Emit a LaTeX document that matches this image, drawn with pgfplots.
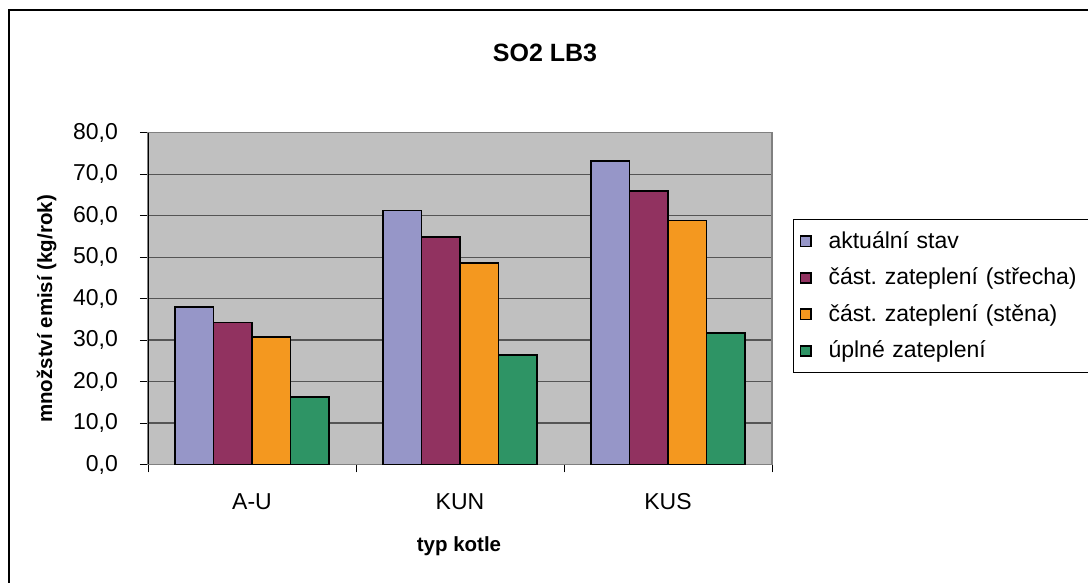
\documentclass[border=0pt]{standalone}
\usepackage{fontspec}
\setmainfont{Liberation Sans}
\usepackage{pgfplots}
\pgfplotsset{compat=1.18}
\definecolor{cA}{HTML}{9696C8}
\definecolor{cB}{HTML}{913260}
\definecolor{cC}{HTML}{F4981F}
\definecolor{cD}{HTML}{2E9465}
\definecolor{plotbg}{HTML}{C0C0C0}
\definecolor{gridc}{HTML}{555555}
\definecolor{framec}{HTML}{808080}
\pgfplotsset{sqleg/.style={legend image code/.code={\draw[##1,draw=black,line width=0.8pt] (0pt,-2.6pt) rectangle (5.2pt,2.6pt);}}}
\begin{document}
\frenchspacing
\begin{tikzpicture}
\path[use as bounding box] (0,0) rectangle (544pt,291.5pt);
\clip (0,0) rectangle (544pt,291.5pt);
\draw[black,line width=0.6pt] (4.5pt,286.5pt) rectangle (600pt,-30pt);
\begin{axis}[
  at={(74pt,59.25pt)}, anchor=south west,
  scale only axis, width=312pt, height=165.9pt,
  xmin=-0.5, xmax=2.5, ymin=0, ymax=80,
  ybar=0pt, bar width=0.185,
  axis background/.style={fill=plotbg},
  axis line style={draw=framec, line width=0.7pt},
  ytick={0,10,...,80},
  xtick pos=bottom, ytick pos=left,
  ymajorgrids, major grid style={draw=gridc, line width=0.6pt},
  xtick={0,1,2}, xticklabels={A-U,KUN,KUS},
  minor xtick={-0.5,0.5,1.5,2.5},
  major x tick style={draw=none},
  minor x tick style={draw=black, line width=0.4pt},
  major y tick style={draw=black, line width=0.5pt},
  tick align=outside, major tick length=4pt, minor tick length=4pt,
  ticklabel style={font=\fontsize{11.5}{13}\selectfont},
  xticklabel style={yshift=-7pt},
  yticklabel style={xshift=-7.5pt},
  /pgf/number format/.cd, fixed, fixed zerofill, precision=1, use comma, assume math mode=true, 1000 sep={},
  /pgfplots/.cd,
  legend cell align=left,
  legend style={at={(1.0337,0.740)}, anchor=north west, draw=black, line width=0.5pt, fill=white,
    font=\fontsize{11.5}{13}\selectfont, inner xsep=3pt, inner ysep=2.5pt, row sep=1.25pt, column sep=6.5pt,
    nodes={inner sep=2pt, text height=10pt, text depth=3pt},
    /tikz/every even column/.append style={text width=150pt}},
]
\addplot[fill=cA, draw=black, line width=0.8pt, bar shift=-0.2775, sqleg] coordinates {(0,38.0) (1,61.2) (2,73.2)};
\addplot[fill=cB, draw=black, line width=0.8pt, bar shift=-0.0925, sqleg] coordinates {(0,34.2) (1,54.9) (2,65.9)};
\addplot[fill=cC, draw=black, line width=0.8pt, bar shift=0.0925, sqleg] coordinates {(0,30.7) (1,48.6) (2,58.8)};
\addplot[fill=cD, draw=black, line width=0.8pt, bar shift=0.2775, sqleg] coordinates {(0,16.3) (1,26.4) (2,31.7)};
\legend{aktuální stav, část. zateplení (střecha), část. zateplení (stěna), úplné zateplení}
\draw[black, line width=0.6pt] (rel axis cs:0,0) -- (rel axis cs:0,1);
\end{axis}
\node[anchor=base, font=\fontsize{12.5}{15}\selectfont\bfseries] at (272.5pt,260.5pt) {SO2 LB3};
\node[anchor=base, font=\fontsize{10.25}{12}\selectfont\bfseries] at (229.5pt,15.5pt) {typ kotle};
\node[anchor=base, rotate=90, font=\fontsize{10.25}{12}\selectfont\bfseries] at (26pt,137pt) {množství emisí (kg/rok)};
\end{tikzpicture}
\end{document}
